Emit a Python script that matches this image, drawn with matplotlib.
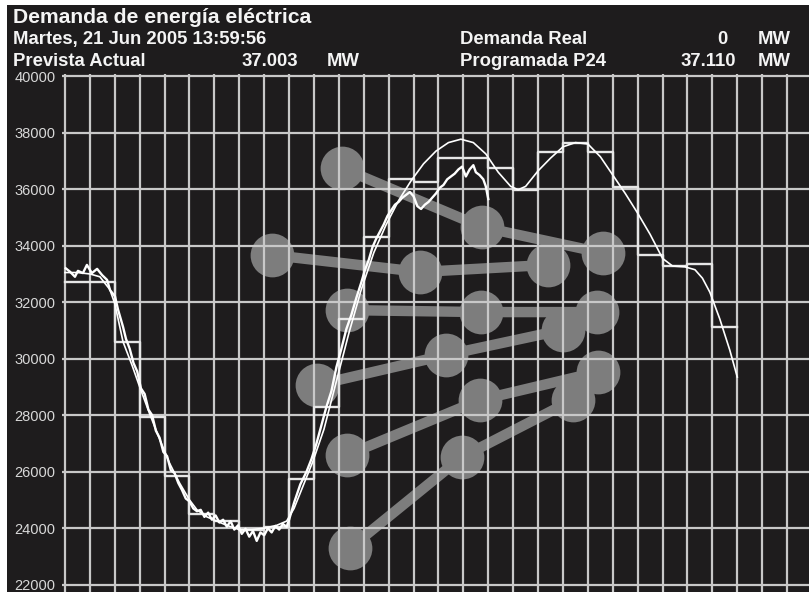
import matplotlib
matplotlib.use('Agg')
import matplotlib.pyplot as plt
from matplotlib.patches import Rectangle
from matplotlib import font_manager

plt.rcParams['font.family'] = ['Liberation Sans', 'DejaVu Sans']
_names = {f.name for f in font_manager.fontManager.ttflist}
NARROW = 'Liberation Sans Narrow' in _names

# ---------------- data ----------------
step_hours = list(range(28))
programada = [32700, 32700, 30600, 27950, 25850, 24500, 24250, 23950, 24050,
              25750, 28300, 31400, 34300, 36350, 36250, 37100, 37100, 36750,
              35970, 37330, 37650, 37300, 36090, 33670, 33280, 33350, 31130,
              31130]

prevista_x = [0.0, 0.5, 1.0, 1.4, 1.8, 2.0, 2.33, 2.7, 3.0, 3.4, 3.8, 4.2, 4.6,
              5.0, 5.3, 5.7, 6.1, 6.5, 7.0, 7.5, 8.0, 8.5, 8.9, 9.2, 9.45, 9.7,
              9.95, 10.4, 10.9, 11.4, 11.9, 12.4, 12.9, 13.4, 13.9, 14.4, 14.9,
              15.4, 15.9, 16.4, 16.9, 17.4, 17.9, 18.2, 18.5, 19.0, 19.5, 20.0,
              20.5, 21.0, 21.5, 22.0, 22.5, 23.0, 23.5, 24.0, 24.4, 24.9, 25.3,
              25.6, 25.9, 26.3, 26.7, 27.0]
prevista_y = [33050, 33050, 33000, 32900, 32450, 31950, 30600, 29750, 29000,
              28050, 27150, 26300, 25600, 25000, 24650, 24400, 24250, 24100,
              23950, 23950, 24000, 24100, 24250, 24700, 25250, 25800, 26350,
              27500, 29200, 30900, 32450, 33750, 34750, 35600, 36300, 36900,
              37350, 37650, 37770, 37650, 37250, 36600, 36100, 35980, 36100,
              36650, 37100, 37500, 37650, 37600, 37150, 36500, 35850, 35150,
              34400, 33550, 33280, 33250, 33150, 32850, 32350, 31400, 30300,
              29350]

real_x = [0.03, 0.2, 0.4, 0.52, 0.72, 0.88, 1.08, 1.29, 1.49, 1.69, 1.81, 2.01,
          2.13, 2.33, 2.45, 2.6, 2.75, 2.9, 3.05, 3.2, 3.35, 3.5, 3.65, 3.8,
          3.95, 4.1, 4.25, 4.4, 4.55, 4.7, 4.85, 5.0, 5.15, 5.3, 5.45, 5.6,
          5.75, 5.9, 6.05, 6.2, 6.35, 6.5, 6.65, 6.8, 6.95, 7.1, 7.25, 7.4,
          7.55, 7.7, 7.85, 8.0, 8.15, 8.3, 8.45, 8.6, 8.75, 8.9, 9.0, 9.2,
          9.45, 9.7, 9.9, 10.1, 10.3, 10.5, 10.7, 10.9, 11.1, 11.3, 11.5, 11.7,
          11.9, 12.05, 12.2, 12.35, 12.5, 12.65, 12.8, 12.95, 13.1, 13.25,
          13.4, 13.55, 13.7, 13.85, 14.0, 14.15, 14.3, 14.45, 14.6, 14.75,
          14.9, 15.05, 15.2, 15.35, 15.5, 15.65, 15.8, 15.95, 16.1, 16.25,
          16.4, 16.5, 16.65, 16.8, 16.9, 17.0]
real_y = [33200, 33080, 32900, 33110, 33030, 33320, 33030, 33180, 32960, 32790,
          32430, 32200, 31740, 31130, 30700, 30350, 29850, 29550, 28950, 28750,
          28200, 28000, 27450, 27200, 26700, 26550, 26050, 25950, 25600, 25350,
          25050, 24950, 24700, 24600, 24650, 24400, 24550, 24300, 24450, 24200,
          24300, 24050, 24250, 23950, 24100, 23800, 23980, 23700, 23900, 23550,
          23850, 23750, 24000, 23850, 24080, 23950, 24150, 24050, 24300, 24900,
          25550, 26000, 26450, 27000, 27650, 28300, 28850, 29700, 30350, 31050,
          31550, 32150, 32700, 33150, 33500, 33950, 34250, 34500, 34750, 35050,
          35250, 35450, 35550, 35700, 35800, 35900, 35750, 35400, 35300, 35450,
          35550, 35700, 35850, 36050, 36150, 36350, 36450, 36550, 36700, 36800,
          36450, 36700, 36850, 36600, 36500, 36350, 36100, 35650]

# decorative node chains (hour, MW)
chain_x = [[11.12, 16.75, 21.61],
           [8.31, 14.26, 19.40],
           [11.33, 16.71, 21.37],
           [10.12, 15.30, 20.00],
           [11.33, 16.67, 21.41],
           [11.45, 15.94, 20.40]]
chain_y = [[36750, 34660, 33740],
           [33670, 33070, 33320],
           [31720, 31650, 31650],
           [29070, 30130, 31020],
           [26590, 28540, 29530],
           [23300, 26520, 28540]]

y_ticks = [22000, 24000, 26000, 28000, 30000, 32000, 34000, 36000, 38000, 40000]
y_labels = [str(v) for v in y_ticks]
x_grid = list(range(30))

# ---------------- figure ----------------
W, H = 809, 592
BG = '#1e1c1d'
fig = plt.figure(figsize=(W / 100, H / 100), dpi=100, facecolor='white')
fig.patches.append(Rectangle((7 / W, 0), 1, 1 - 5 / H, transform=fig.transFigure,
                             facecolor=BG, edgecolor='none', zorder=-10))

ax = fig.add_axes([62 / W, 0, 747 / W, 518 / H])
ax.set_zorder(1)
ax.set_facecolor(BG)
ax.set_xlim(-0.12, 29.88)
ax.set_ylim(21741, 40078)
for s in ax.spines.values():
    s.set_visible(False)

ax.set_xticks(x_grid)
ax.set_xticklabels([])
ax.set_yticks(y_ticks)
ax.set_yticklabels(y_labels, color='#d8d8d8', fontsize=10.5)
ax.tick_params(length=0, pad=4.5)
ax.set_axisbelow(False)
ax.grid(True, color='#c8c8c8', linewidth=1.6)

grey = '#7d7d7d'
for cx, cy in zip(chain_x, chain_y):
    ax.plot(cx, cy, color=grey, linewidth=7.5, solid_capstyle='round', zorder=1)
    ax.plot(cx, cy, linestyle='none', marker='o', markersize=31.5,
            markerfacecolor=grey, markeredgecolor='none', zorder=1)

ax.step(step_hours, programada, where='post', color='#e6e6e6', linewidth=1.7,
        zorder=3)
ax.plot(prevista_x, prevista_y, color='white', linewidth=1.2, zorder=3)
ax.plot(real_x, real_y, color='white', linewidth=1.7, zorder=4)

# ---------------- header ----------------
if NARROW:
    HFONT = ['Liberation Sans Narrow', 'Liberation Sans', 'DejaVu Sans']
    S1, S2 = 17.5, 15.5
else:
    HFONT = ['Liberation Sans', 'DejaVu Sans']
    S1, S2 = 15.2, 13.3


def t(x, y, s, size, ha='left'):
    fig.text(x / W, 1 - y / H, s, color='#f4f4f4', fontsize=size,
             fontweight='bold', ha=ha, va='baseline', family=HFONT)

t(13, 23, 'Demanda de energía eléctrica', S1)
t(13, 44, 'Martes, 21 Jun 2005 13:59:56', S2)
t(13, 66, 'Prevista Actual', S2)
t(298, 66, '37.003', S2, ha='right')
t(327, 66, 'MW', S2)
t(460, 44, 'Demanda Real', S2)
t(728, 44, '0', S2, ha='right')
t(758, 44, 'MW', S2)
t(460, 66, 'Programada P24', S2)
t(736, 66, '37.110', S2, ha='right')
t(758, 66, 'MW', S2)

fig.savefig('out.png', dpi=100, facecolor=fig.get_facecolor())
